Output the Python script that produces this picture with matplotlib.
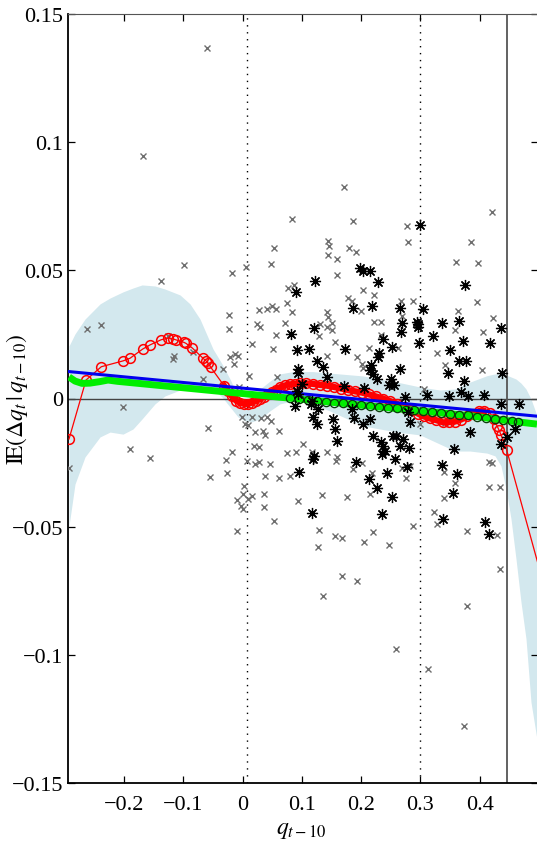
import numpy as np
import matplotlib
matplotlib.use("Agg")
import matplotlib.pyplot as plt

plt.rcParams['font.family'] = ['Liberation Serif', 'DejaVu Serif']
plt.rcParams['mathtext.fontset'] = 'stix'

# %% data

# all observations (grey crosses)
cross_x = [-0.0604, -0.1683, -0.0987, -0.1379, -0.2627, -0.2381, -0.0172, -0.0223, -0.0233, -0.0324,
           -0.1251, -0.1155, -0.1167, -0.0840, -0.0211, -0.0126, -0.0071, -0.0138, -0.0661, -0.2010,
           -0.0064, -0.0577, -0.1897, -0.1560, -0.2926, -0.0283, -0.0182, -0.0543, -0.0266, -0.0088,
           -0.0098, 0.0013, 0.0088, 0.0165, -0.0030, 0.0003, 0.0025, 0.0363, 0.0368, 0.0384,
           0.0071, 0.0199, 0.0283, 0.0211, 0.0283, 0.0351, 0.0379, 0.0098, 0.0464, 0.0621,
           0.0801, 0.0531, 0.0931, 0.1336, 0.1295, 0.1278, 0.1363, 0.0165, 0.0105, 0.0560,
           0.0519, 0.0587, -0.0013, 0.0155, 0.0312, 0.0418, 0.0476, 0.0042, 0.0211, 0.0621,
           0.1015, 0.0755, 0.0830, 0.0531, 0.0481, 0.0059, 0.1447, 0.1459, 0.1447, 0.0772,
           0.0868, 0.0755, 0.0278, 0.0408, 0.0492, 0.0565, 0.0830, 0.0239, 0.0295, 0.0722,
           0.1420, 0.1447, 0.1707, 0.1858, 0.2769, 0.4202, 0.2796, 0.3858, 0.1796, 0.1909,
           0.1589, 0.1589, 0.3600, 0.3976, 0.2027, 0.2212, 0.1774, 0.1841, 0.1993, 0.2673,
           0.2870, 0.3954, 0.3639, 0.2223, 0.2331, 0.4219, 0.2685, 0.1312, 0.1420, 0.1514,
           0.1514, 0.1290, 0.1565, 0.2128, 0.3280, 0.3415, 0.1936, 0.4061, 0.3583, 0.2341,
           0.2622, 0.1430, 0.2015, 0.2032, 0.4044, 0.3066, 0.2993, 0.1589, 0.3415, 0.1577,
           0.2010, 0.1858, 0.2179, 0.2685, 0.2825, 0.2752, 0.1757, 0.2150, 0.2206, 0.1565,
           0.1673, 0.2054, 0.2470, 0.2880, 0.3234, 0.3275, 0.3398, 0.3578, 0.3403, 0.3781,
           0.4162, 0.4202, 0.4162, 0.4342, 0.4297, 0.4347, 0.1673, 0.1936, 0.3781, 0.2594,
           0.3128, 0.3735, 0.0907, 0.1177, 0.1430, 0.1177]
cross_y = [0.1366, 0.0947, 0.0521, 0.0458, 0.0271, 0.0287, 0.0490, 0.0326, 0.0271, 0.0115,
           0.0243, 0.0165, 0.0154, 0.0183, 0.0161, 0.0174, 0.0167, 0.0135, 0.0076, -0.0034,
           0.0046, -0.0116, -0.0196, -0.0233, -0.0272, -0.0240, -0.0210, -0.0307, -0.0292, -0.0518,
           -0.0396, -0.0374, -0.0392, -0.0380, -0.0421, -0.0432, -0.0340, -0.0374, -0.0423, -0.0304,
           -0.0244, -0.0185, -0.0189, -0.0254, -0.0249, -0.0127, -0.0142, -0.0103, -0.0257, -0.0309,
           -0.0301, -0.0478, -0.0400, -0.0375, -0.0513, -0.0581, -0.0769, 0.0213, 0.0089, 0.0248,
           0.0193, 0.0083, -0.0073, -0.0073, -0.0077, -0.0073, -0.0087, -0.0099, -0.0132, -0.0126,
           -0.0178, -0.0213, 0.0700, 0.0587, 0.0525, 0.0513, 0.0616, 0.0596, 0.0560, 0.0432,
           0.0443, 0.0373, 0.0345, 0.0348, 0.0360, 0.0349, 0.0339, 0.0291, 0.0278, 0.0296,
           0.0336, 0.0317, 0.0824, 0.0694, 0.0674, 0.0729, 0.0609, 0.0612, 0.0587, 0.0570,
           0.0544, 0.0482, 0.0534, 0.0527, 0.0425, 0.0405, 0.0393, 0.0382, 0.0343, 0.0382,
           0.0382, 0.0375, 0.0343, 0.0297, 0.0297, 0.0313, 0.0323, 0.0291, 0.0278, 0.0293,
           0.0267, 0.0243, 0.0220, 0.0197, 0.0179, 0.0130, 0.0162, 0.0258, 0.0268, 0.0248,
           0.0198, 0.0165, 0.0135, 0.0119, 0.0112, 0.0037, -0.0099, -0.0229, -0.0096, -0.0243,
           -0.0252, -0.0275, -0.0291, -0.0272, -0.0262, -0.0310, -0.0385, -0.0373, -0.0520, -0.0535,
           -0.0545, -0.0559, -0.0572, -0.0499, -0.0444, -0.0490, -0.0286, -0.0330, -0.0387, -0.0518,
           -0.0249, -0.0253, -0.0346, -0.0346, -0.0533, -0.0664, -0.0694, -0.0713, -0.0808, -0.0977,
           -0.1054, -0.1277, -0.0210, -0.0210, -0.0210, -0.0239]

# highlighted subsample (black asterisks)
star_x = [0.2988, 0.1981, 0.2032, 0.2150, 0.2280, 0.1223, 0.0897, 0.3747, 0.1868, 0.2184,
          0.2656, 0.3039, 0.2685, 0.2678, 0.2938, 0.2960, 0.2965, 0.3356, 0.3654, 0.4354,
          0.0818, 0.1206, 0.3207, 0.3718, 0.4174, 0.2374, 0.2513, 0.2971, 0.1734, 0.0924,
          0.1113, 0.3504, 0.3651, 0.3764, 0.2302, 0.2285, 0.1251, 0.1352, 0.0941, 0.0944,
          0.2167, 0.2145, 0.2206, 0.2648, 0.3460, 0.4376, 0.1420, 0.0998, 0.1703, 0.2504,
          0.2555, 0.2476, 0.2263, 0.3727, 0.2044, 0.3680, 0.3803, 0.4073, 0.3477, 0.3103,
          0.2735, 0.4354, 0.4658, 0.0880, 0.1160, 0.1273, 0.0914, 0.0941, 0.1167, 0.1194,
          0.1251, 0.1206, 0.4595, 0.4354, 0.4455, 0.3836, 0.3572, 0.2786, 0.2825, 0.2702,
          0.2589, 0.2206, 0.2331, 0.2374, 0.2403, 0.2347, 0.2543, 0.2656, 0.2813, 0.2150,
          0.2037, 0.1880, 0.1841, 0.1531, 0.1560, 0.1599, 0.0953, 0.1172, 0.1194, 0.1914,
          0.2572, 0.2779, 0.2138, 0.2442, 0.2263, 0.2516, 0.2347, 0.3369, 0.3612, 0.3545,
          0.3386, 0.4089, 0.4162]
star_y = [0.0677, 0.0508, 0.0499, 0.0499, 0.0453, 0.0460, 0.0417, 0.0443, 0.0354, 0.0360,
          0.0352, 0.0349, 0.0295, 0.0259, 0.0300, 0.0291, 0.0278, 0.0294, 0.0301, 0.0275,
          0.0250, 0.0275, 0.0245, 0.0226, 0.0217, 0.0232, 0.0201, 0.0217, 0.0195, 0.0191,
          0.0194, 0.0188, 0.0148, 0.0148, 0.0179, 0.0163, 0.0147, 0.0123, 0.0115, 0.0101,
          0.0131, 0.0111, 0.0096, 0.0115, 0.0098, 0.0098, 0.0083, 0.0057, 0.0050, 0.0078,
          0.0054, 0.0054, 0.0076, 0.0069, 0.0040, 0.0024, 0.0011, 0.0015, 0.0011, 0.0012,
          0.0005, -0.0021, -0.0021, -0.0028, -0.0021, -0.0041, 0.0030, 0.0018, -0.0009, -0.0073,
          -0.0099, -0.0223, -0.0119, -0.0178, -0.0151, -0.0130, -0.0197, -0.0052, -0.0093, -0.0158,
          -0.0147, -0.0147, -0.0171, -0.0184, -0.0204, -0.0217, -0.0145, -0.0184, -0.0194, -0.0080,
          -0.0099, -0.0077, -0.0041, -0.0080, -0.0119, -0.0165, -0.0288, -0.0447, -0.0236, -0.0249,
          -0.0236, -0.0268, -0.0314, -0.0291, -0.0349, -0.0385, -0.0451, -0.0258, -0.0295, -0.0369,
          -0.0470, -0.0481, -0.0529]

# nonparametric estimate (red circles)
red_x = [-0.2926, -0.2639, -0.2381, -0.2010, -0.1897, -0.1683, -0.1560, -0.1374, -0.1251, -0.1167,
         -0.1126, -0.0987, -0.0953, -0.0847, -0.0671, -0.0616, -0.0577, -0.0536, -0.0312, -0.0245,
         -0.0177, -0.0110, -0.0042, 0.0025, 0.0093, 0.0160, 0.0228, 0.0295, 0.0363, 0.0430,
         0.0497, 0.0565, 0.0632, 0.0717, 0.0801, 0.0885, 0.0970, 0.1071, 0.1189, 0.1307,
         0.1425, 0.1543, 0.1661, 0.1779, 0.1897, 0.2015, 0.2133, 0.2251, 0.2369, 0.2487,
         0.2605, 0.2723, 0.2841, 0.2959, 0.3061, 0.3162, 0.3263, 0.3381, 0.3482, 0.3583,
         0.3685, 0.3786, 0.3887, 0.3988, 0.4064, 0.4174, 0.4241, 0.4292, 0.4325, 0.4359,
         0.4455, 0.5150]
red_y = [-0.0158, 0.0072, 0.0124, 0.0147, 0.0157, 0.0193, 0.0209, 0.0229, 0.0236, 0.0232,
         0.0229, 0.0219, 0.0215, 0.0197, 0.0158, 0.0147, 0.0137, 0.0122, 0.0050, 0.0029,
         0.0008, -0.0008, -0.0017, -0.0021, -0.0021, -0.0016, -0.0010, -0.0002, 0.0006, 0.0016,
         0.0025, 0.0035, 0.0044, 0.0051, 0.0055, 0.0057, 0.0059, 0.0059, 0.0057, 0.0053,
         0.0050, 0.0045, 0.0039, 0.0033, 0.0028, 0.0023, 0.0016, 0.0008, 0.0000, -0.0010,
         -0.0021, -0.0033, -0.0045, -0.0059, -0.0070, -0.0078, -0.0084, -0.0093, -0.0092, -0.0090,
         -0.0082, -0.0070, -0.0059, -0.0049, -0.0048, -0.0057, -0.0080, -0.0107, -0.0123, -0.0142,
         -0.0201, -0.0785]
# where the observations are dense the circles merge into a solid band
dense = slice(18, 65)

# smoothed estimate (green)
green_x = [-0.2926, -0.2825, -0.2707, -0.2572, -0.2403, -0.2268, -0.2108, 0.3862, 0.4342, 0.4966]
green_y = [0.0084, 0.0068, 0.0059, 0.0060, 0.0066, 0.0072, 0.0067, -0.0068, -0.0083, -0.0100]
gcirc_x = [0.080, 0.095, 0.110, 0.125, 0.140, 0.155, 0.170, 0.185, 0.200, 0.215, 0.230, 0.245,
           0.260, 0.275, 0.290, 0.305, 0.320, 0.335, 0.350, 0.365, 0.380, 0.395, 0.410, 0.425,
           0.440, 0.455, 0.465]
gcirc_y = [0.0001, -0.0002, -0.0006, -0.0009, -0.0012, -0.0016, -0.0019, -0.0022, -0.0026,
           -0.0029, -0.0033, -0.0036, -0.0039, -0.0043, -0.0046, -0.0050, -0.0053, -0.0056,
           -0.0060, -0.0063, -0.0066, -0.0071, -0.0075, -0.0080, -0.0085, -0.0089, -0.0092]

# linear fit (blue)
blue_x = [-0.2926, 0.4966]
blue_y = [0.0105, -0.0069]

# confidence band
band_x = [-0.2926, -0.2825, -0.2656, -0.2403, -0.2234, -0.2015, -0.1847, -0.1695, -0.1476, -0.1307,
          -0.1054, -0.0885, -0.0717, -0.0497, -0.0346, -0.0211, -0.0076, 0.0042, 0.0160, 0.0295,
          0.0464, 0.0632, 0.0852, 0.1189, 0.1476, 0.2032, 0.2605, 0.2993, 0.3330, 0.3583,
          0.3836, 0.4123, 0.4258, 0.4359, 0.4444, 0.4528, 0.4612, 0.4696, 0.4781, 0.4865, 0.4966]
band_hi = [0.0205, 0.0252, 0.0310, 0.0369, 0.0392, 0.0416, 0.0431, 0.0443, 0.0439, 0.0427,
           0.0404, 0.0369, 0.0310, 0.0193, 0.0135, 0.0076, 0.0010, -0.0010, 0.0006, 0.0037,
           0.0068, 0.0096, 0.0105, 0.0105, 0.0099, 0.0088, 0.0064, 0.0045, 0.0033, 0.0037,
           0.0064, 0.0089, 0.0096, 0.0096, 0.0092, 0.0084, 0.0076, 0.0060, 0.0037, -0.0002, -0.0067]
band_lo = [-0.0497, -0.0334, -0.0228, -0.0150, -0.0131, -0.0139, -0.0119, -0.0080, -0.0021, 0.0010,
           0.0033, 0.0041, 0.0045, 0.0037, 0.0006, -0.0033, -0.0072, -0.0087, -0.0091, -0.0080,
           -0.0048, -0.0021, -0.0009, -0.0021, -0.0049, -0.0107, -0.0131, -0.0142, -0.0178, -0.0205,
           -0.0205, -0.0213, -0.0224, -0.0263, -0.0353, -0.0470, -0.0626, -0.0794, -0.0938, -0.1185, -0.1330]

vline_dotted = [0.007, 0.3]
vline_solid = 0.4466

yticks = [-0.15, -0.1, -0.05, 0, 0.05, 0.1, 0.15]
ytick_labels = ['\u22120.15', '\u22120.1', '\u22120.05', '0', '0.05', '0.1', '0.15']
xticks = [-0.2, -0.1, 0, 0.1, 0.2, 0.3, 0.4]
xtick_labels = ['\u22120.2', '\u22120.1', '0', '0.1', '0.2', '0.3', '0.4']

# %% plot
fig = plt.figure(figsize=(5.37, 8.45), dpi=100)
ax = fig.add_axes([68 / 537, 61 / 845, 470 / 537, 769 / 845])

ax.fill_between(band_x, band_lo, band_hi, color='#d3e8ee', lw=0, zorder=1)
ax.axhline(0, color='#444444', lw=1.0, zorder=2)
for xv in vline_dotted:
    ax.axvline(xv, color='black', lw=1.0, ls=(0, (1, 4)), zorder=2)
ax.axvline(vline_solid, color='#555555', lw=1.3, zorder=2)

ax.plot(cross_x + star_x, cross_y + star_y, 'x', color='#6e6e6e', ms=5, mew=1.0, zorder=3)
ax.plot(red_x[dense], red_y[dense], '-', color='red', lw=4.5, zorder=4)
ax.plot(red_x, red_y, '-o', color='red', lw=0.9, ms=7, mfc='none', mew=1.1, zorder=4)
ax.plot(green_x, green_y, '-', color='#00ee00', lw=5, solid_capstyle='butt', zorder=5)
ax.plot(gcirc_x, gcirc_y, 'o', mfc='none', mec='#0a3a0a', ms=6, mew=0.9, zorder=6)
ax.plot(blue_x, blue_y, '-', color='#0000ee', lw=2.2, zorder=7)
ax.plot(star_x, star_y, ls='none', marker=(8, 2, 0), color='black', ms=8, mew=0.9, zorder=8)

ax.set_xlim(-0.2943, 0.4983)
ax.set_ylim(-0.15, 0.15)
ax.set_xticks(xticks)
ax.set_xticklabels(xtick_labels)
ax.set_yticks(yticks)
ax.set_yticklabels(ytick_labels)
ax.tick_params(direction='in', length=5, width=0.9, labelsize=16, top=True, right=True)
ax.tick_params(axis='x', pad=9)
ax.spines['right'].set_visible(False)
ax.spines['top'].set_color('#555555')
for s in ['left', 'bottom']:
    ax.spines[s].set_linewidth(1.3)

ax.set_xlabel(r'$q_{t-10}$', fontsize=17)
ax.set_ylabel(r'$\mathrm{I\!E}\left(\Delta q_t\,|\,q_{t-10}\right)$', fontsize=17)
ax.xaxis.set_label_coords(0.497, -0.047)
ax.yaxis.set_label_coords(-0.08, 0.5)

fig.savefig('out.png', dpi=100)
